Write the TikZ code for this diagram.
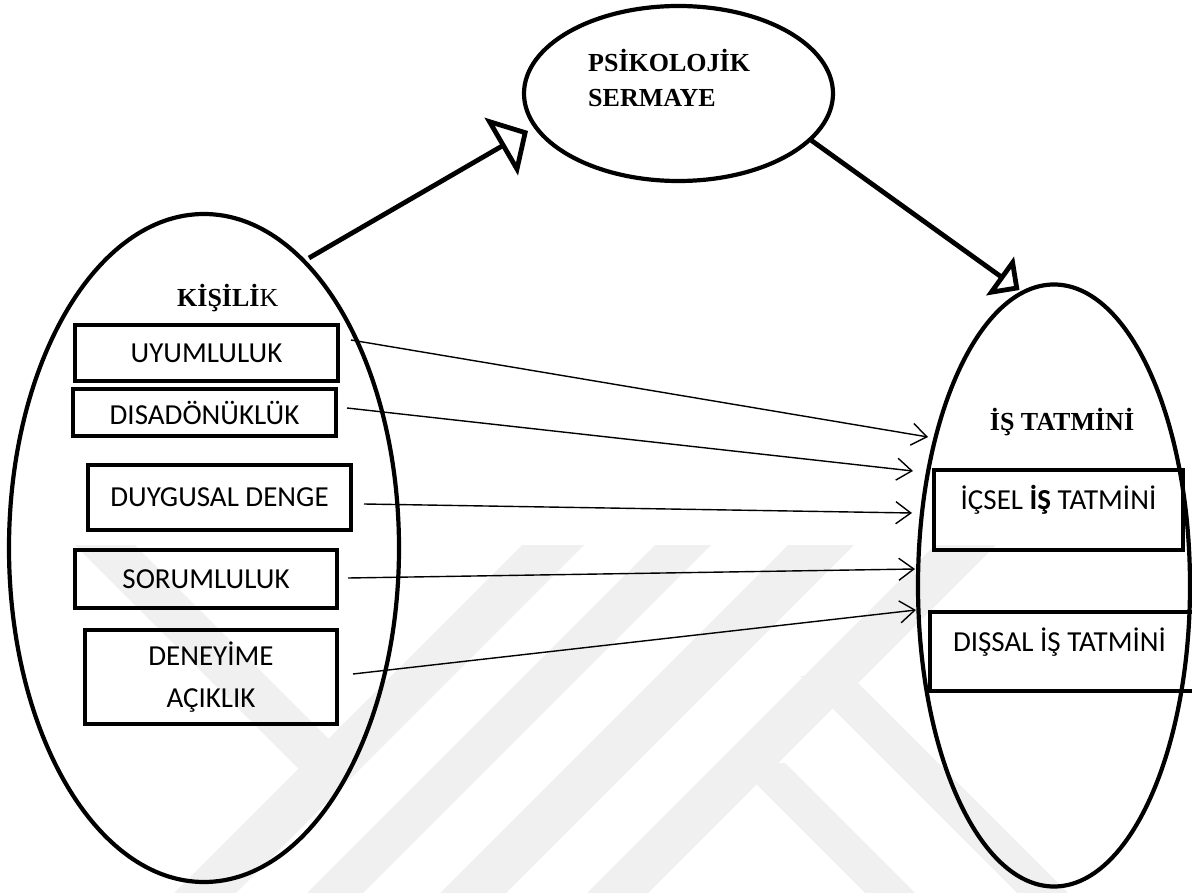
\documentclass[tikz,border=0pt]{standalone}
\usepackage{fontspec}
\setmainfont{Carlito}
\newfontfamily\serifhead{Liberation Serif}
\usetikzlibrary{arrows.meta,shapes.geometric}
\definecolor{wmgray}{RGB}{240,240,240}
\begin{document}
\begin{tikzpicture}[x=1pt,y=-1pt,
  oval/.style={ellipse,draw,line width=4.2pt,inner sep=0pt},
  itembox/.style={rectangle,draw,line width=4pt,inner sep=0pt,
    font=\fontsize{29}{42}\selectfont,align=center},
  boxtext/.style={inner sep=0pt,font=\fontsize{29}{42}\selectfont},
  heading/.style={inner sep=0pt,font=\serifhead\bfseries\fontsize{26}{35}\selectfont},
  mainlink/.style={line width=4.8pt},
  sublink/.style={line width=1.4pt,-{Straight Barb[length=15pt,width=22pt]}},
  wm/.style={fill=wmgray,draw=none}]

\useasboundingbox (0,0) rectangle (1192,893);

% faint background logo
\path[wm] (75,545) -- (135,545) -- (359.5,769.5) -- (298.5,768.5) -- cycle;
\path[wm] (522,545) -- (584,545) -- (236,893) -- (174,893) -- cycle;
\path[wm] (655,545) -- (711,545) -- (363,893) -- (307,893) -- cycle;
\path[wm] (788,545) -- (854,545) -- (506,893) -- (440,893) -- cycle;
\path[wm] (935,545) -- (996,545) -- (648,893) -- (587,893) -- cycle;
\path[wm] (800,676) -- (851,676) -- (1068,893) -- (1017,893) -- cycle;
\path[wm] (735,763) -- (785,763) -- (915,893) -- (865,893) -- cycle;

% the three constructs
\node[oval,minimum width=390pt,minimum height=668pt] (kis) at (204,548) {};
\node[oval,minimum width=309pt,minimum height=175pt] (psi) at (678.5,93.5) {};
\node[oval,minimum width=272pt,minimum height=602pt] (tat) at (1054,585.5) {};

% headings
\node[heading,anchor=base west,align=left] (psitxt) at (588,107) {PSİKOLOJİK\\SERMAYE};
\node[heading,anchor=base west] (kistxt) at (177,307) {KİŞİLİ\textmd{K}};
\node[heading,anchor=base] (tattxt) at (1062,430) {İŞ TATMİNİ};

% personality dimensions
\node[itembox,minimum width=263pt,minimum height=56pt] (uyu) at (206.5,353) {UYUMLULUK};
\node[itembox,minimum width=263pt,minimum height=47pt] (dis) at (204.5,412.5) {DISADÖNÜKLÜK};
\node[itembox,minimum width=263pt,minimum height=65pt] (duy) at (219.5,497.5) {DUYGUSAL DENGE};
\node[itembox,minimum width=262pt,minimum height=58pt] (sor) at (206,579) {SORUMLULUK};
\node[itembox,minimum width=252pt,minimum height=94pt] (den) at (211,677) {DENEYİME\\AÇIKLIK};

% job satisfaction dimensions
\node[itembox,minimum width=249pt,minimum height=80pt] (ic) at (1058.5,510) {};
\node[boxtext] (ictxt) at ([yshift=10pt]ic.center) {İÇSEL \textbf{İŞ} TATMİNİ};
\node[itembox,minimum width=264pt,minimum height=79pt] (dx) at (1061.5,651.5) {};
\node[boxtext] (dxtxt) at ([shift={(-2,-9)}]dx.center) {DIŞSAL İŞ TATMİNİ};

% mediation path
\draw[mainlink,-{Triangle[open,length=31pt,width=66pt]}]
  ([shift={(105,-290)}]kis.center) -- ([shift={(-150.5,37.5)}]psi.center);
\draw[mainlink,-{Triangle[open,length=24pt,width=47pt]}]
  ([shift={(133,47)}]psi.center) -- ([shift={(-34.5,-295.5)}]tat.center);

% direct paths
\draw[sublink] ([shift={(11,-13)}]uyu.east) -- ([shift={(-126,-148.5)}]tat.center);
\draw[sublink] ([shift={(9,-4.5)}]dis.east) -- ([shift={(-141,-114.5)}]tat.center);
\draw[sublink] ([shift={(11,6.5)}]duy.east) -- ([shift={(-142,-72.5)}]tat.center);
\draw[sublink] ([shift={(9,-1)}]sor.east) -- ([shift={(-139,-16.5)}]tat.center);
\draw[sublink] ([shift={(14,-3)}]den.east) -- ([shift={(-138,24.5)}]tat.center);
\end{tikzpicture}
\end{document}
